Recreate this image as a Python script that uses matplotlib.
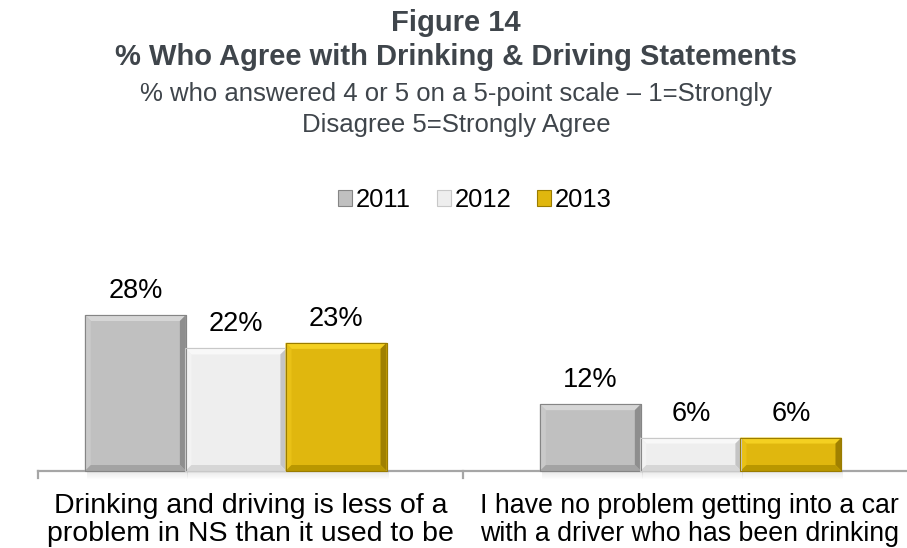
import matplotlib
matplotlib.use("Agg")
import matplotlib.pyplot as plt
from matplotlib.patches import Polygon, Rectangle
from matplotlib.transforms import IdentityTransform

plt.rcParams['font.family'] = ['Liberation Sans', 'DejaVu Sans']

# ---- data ----
categories = ["Drinking and driving is less of a\nproblem in NS than it used to be",
              "I have no problem getting into a car\nwith a driver who has been drinking"]
years = ["2011", "2012", "2013"]
values = {
    "2011": [28, 12],
    "2012": [22, 6],
    "2013": [23, 6],
}
title_lines = ["Figure 14", "% Who Agree with Drinking & Driving Statements"]
subtitle = "% who answered 4 or 5 on a 5-point scale \u2013 1=Strongly\nDisagree 5=Strongly Agree"

# ---- style ----
W, H, DPI = 907, 548, 100
base_col = {"2011": "#c0c0c0", "2012": "#eeeeee", "2013": "#e0b70e"}
top_col = {"2011": "#d6d6d6", "2012": "#f8f8f8", "2013": "#f4d021"}
left_col = {"2011": "#c9c9c9", "2012": "#f3f3f3", "2013": "#e9c116"}
right_col = {"2011": "#8e8e8e", "2012": "#c4c4c4", "2013": "#a08000"}
bot_col = {"2011": "#a3a3a3", "2012": "#d6d6d6", "2013": "#b99700"}
edge_col = {"2011": "#858585", "2012": "#c8c8c8", "2013": "#9a7c00"}
title_col = "#3f454b"
axis_col = "#a6a6a6"

fig = plt.figure(figsize=(W / DPI, H / DPI), dpi=DPI)
fig.patch.set_facecolor("white")

# axes spans the horizontal baseline from px 38 to 907, baseline at y=471
base_px, top_px = 471, 230
px_per_unit = 156 / 28
ax = fig.add_axes([38 / W, (H - base_px) / H, (W - 38) / W, (base_px - top_px) / H])
ax.set_xlim(-0.435, 1.475)
ax.set_ylim(0, (base_px - top_px) / px_per_unit)
ax.axis("off")

bar_w = 0.222
offsets = [-0.221, 0.0, 0.22]
xs = list(range(len(categories)))

to_px = ax.transData.transform
bev = 6

for yi, yr in enumerate(years):
    pos = [x + offsets[yi] for x in xs]
    bars = ax.bar(pos, values[yr], width=bar_w, color=base_col[yr],
                  edgecolor=edge_col[yr], linewidth=0.8, zorder=3, label=yr)
    for rect, v in zip(bars, values[yr]):
        (x0, y0) = to_px((rect.get_x(), 0))
        (x1, y1) = to_px((rect.get_x() + rect.get_width(), rect.get_height()))
        # soft drop shadow below the bar
        for k in range(1, 9):
            fig.patches.append(Rectangle((x0 + 2, y0 - k), x1 - x0, 1,
                                         transform=IdentityTransform(),
                                         facecolor="#000000", alpha=0.09 * (9 - k) / 8,
                                         edgecolor="none", zorder=1))
        b = min(bev, (y1 - y0) / 3)
        polys = [
            ([(x0, y1), (x1, y1), (x1 - b, y1 - b), (x0 + b, y1 - b)], top_col[yr]),
            ([(x0, y0), (x0, y1), (x0 + b, y1 - b), (x0 + b, y0 + b)], left_col[yr]),
            ([(x1, y0), (x1, y1), (x1 - b, y1 - b), (x1 - b, y0 + b)], right_col[yr]),
            ([(x0, y0), (x1, y0), (x1 - b, y0 + b), (x0 + b, y0 + b)], bot_col[yr]),
        ]
        for pts, c in polys:
            fig.patches.append(Polygon(pts, closed=True, transform=IdentityTransform(),
                                       facecolor=c, edgecolor="none", zorder=4))
        fig.patches.append(Rectangle((x0, y0), x1 - x0, y1 - y0, transform=IdentityTransform(),
                                     facecolor="none", edgecolor=edge_col[yr],
                                     linewidth=0.8, zorder=5))
        ax.annotate(f"{v}%", (rect.get_x() + rect.get_width() / 2, rect.get_height()),
                    xytext=(0, 24 * 72 / DPI), textcoords="offset points",
                    ha="center", va="center", fontsize=19.5, color="black")

# horizontal axis line with category separators
ax.axhline(0, color=axis_col, lw=1.6, zorder=6, clip_on=False)
for xt in [-0.435, 0.5]:
    ax.plot([xt, xt], [0, -7 / px_per_unit], color=axis_col, lw=1.6, clip_on=False, zorder=6)

# category labels
label_shift = [0.033, -0.004]
label_size = [20.5, 19.3]
for x, cat, s, fs in zip(xs, categories, label_shift, label_size):
    ax.text(x + s, -22 / px_per_unit, cat, ha="center", va="top", fontsize=fs,
            color="black", linespacing=1.11, clip_on=False)

# titles
fig.text(456 / W, 1 - 31 / H, title_lines[0], ha="center", va="baseline",
         fontsize=21, fontweight="bold", color=title_col)
fig.text(456 / W, 1 - 65 / H, title_lines[1], ha="center", va="baseline",
         fontsize=21, fontweight="bold", color=title_col)
fig.text(456 / W, 1 - 132 / H, subtitle, ha="center", va="baseline",
         fontsize=18.5, color=title_col, linespacing=1.36)

# legend
leg = fig.legend(loc="center", bbox_to_anchor=(475 / W, 1 - 200 / H), ncol=3,
                 frameon=False, fontsize=18.4, handlelength=0.55, handleheight=0.55,
                 handletextpad=0.15, columnspacing=1.0, borderaxespad=0)

fig.savefig("out.png", dpi=DPI, facecolor="white")
